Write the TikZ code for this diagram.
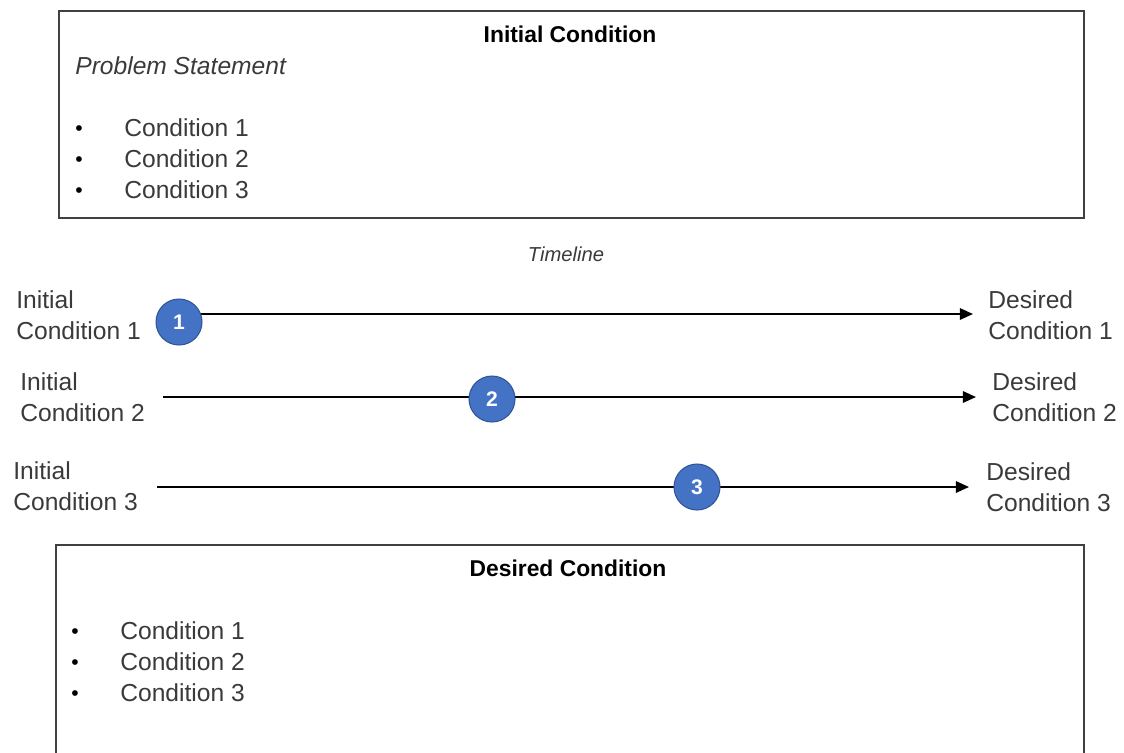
\documentclass[tikz,border=0pt]{standalone}
\usepackage{fontspec}
\setmainfont{Liberation Sans}
\usetikzlibrary{arrows.meta}
\definecolor{txt}{HTML}{3A3A3A}
\definecolor{boxc}{HTML}{404040}
\definecolor{circ}{HTML}{4472C4}
\definecolor{circb}{HTML}{2F5597}
\tikzset{
  x=0.02cm, y=-0.02cm,
  lbl/.style={inner sep=0pt, text=txt, font=\fontsize{14}{17.6}\selectfont, align=left, anchor=west},
  ttl/.style={inner sep=0pt, text=black, font=\fontsize{13}{16}\selectfont\bfseries},
  bul/.style={inner sep=0pt, text=black, font=\fontsize{12}{14}\selectfont},
  frame/.style={draw=boxc, line width=1.4pt, fill=none, inner sep=0pt, anchor=north west},
  tl/.style={draw=black, line width=1.2pt, -{Triangle[length=7.5pt,width=6.5pt]}},
  badge/.style={circle, fill=circ, draw=circb, line width=0.6pt, minimum size=0.92cm, inner sep=0pt, text=white, font=\fontsize{12}{14}\selectfont\bfseries}
}
\begin{document}
\begin{tikzpicture}
\useasboundingbox (0,0) rectangle (1124,752);
\clip (0,0) rectangle (1124,752);
% top box
\node[frame, minimum width=20.5cm, minimum height=4.14cm] (topbox) at (58,10) {};
\node[ttl] (toptitle) at (570,34) {Initial Condition};
\node[lbl, font=\fontsize{14}{17.6}\selectfont\itshape] (ps) at (75,66) {Problem Statement};
\foreach \i/\yy in {1/128,2/159,3/190}{
  \node[bul] (tb\i) at (79,\yy+3) {\textbullet};
  \node[lbl] (tc\i) at (124,\yy) {Condition \i};
}
% timeline
\node[lbl, anchor=center, font=\fontsize{11.5}{14}\selectfont\itshape] (tline) at (566,254) {Timeline};
% rows
\node[lbl] (i1) at (16,315) {Initial\\Condition 1};
\node[lbl] (d1) at (988,315) {Desired\\Condition 1};
\node[lbl] (i2) at (20,397) {Initial\\Condition 2};
\node[lbl] (d2) at (992,397) {Desired\\Condition 2};
\node[lbl] (i3) at (13,486) {Initial\\Condition 3};
\node[lbl] (d3) at (986,487) {Desired\\Condition 3};
\coordinate (s1) at (195,314);
\coordinate (e1) at (973,314);
\coordinate (s2) at (163,397);
\coordinate (e2) at (976,397);
\coordinate (s3) at (157,487);
\coordinate (e3) at (969,487);
\draw[tl] (s1) -- (e1);
\draw[tl] (s2) -- (e2);
\draw[tl] (s3) -- (e3);
\node[badge] (c1) at (179,322) {1};
\node[badge] (c2) at (492,399) {2};
\node[badge] (c3) at (697,487) {3};
% bottom box
\node[frame, minimum width=20.56cm, minimum height=4.5cm] (botbox) at (55,544) {};
\node[ttl] (bottitle) at (568,568) {Desired Condition};
\foreach \i/\yy in {1/631,2/662,3/693}{
  \node[bul] (bb\i) at (75,\yy+3) {\textbullet};
  \node[lbl] (bc\i) at (120,\yy) {Condition \i};
}
\end{tikzpicture}
\end{document}
